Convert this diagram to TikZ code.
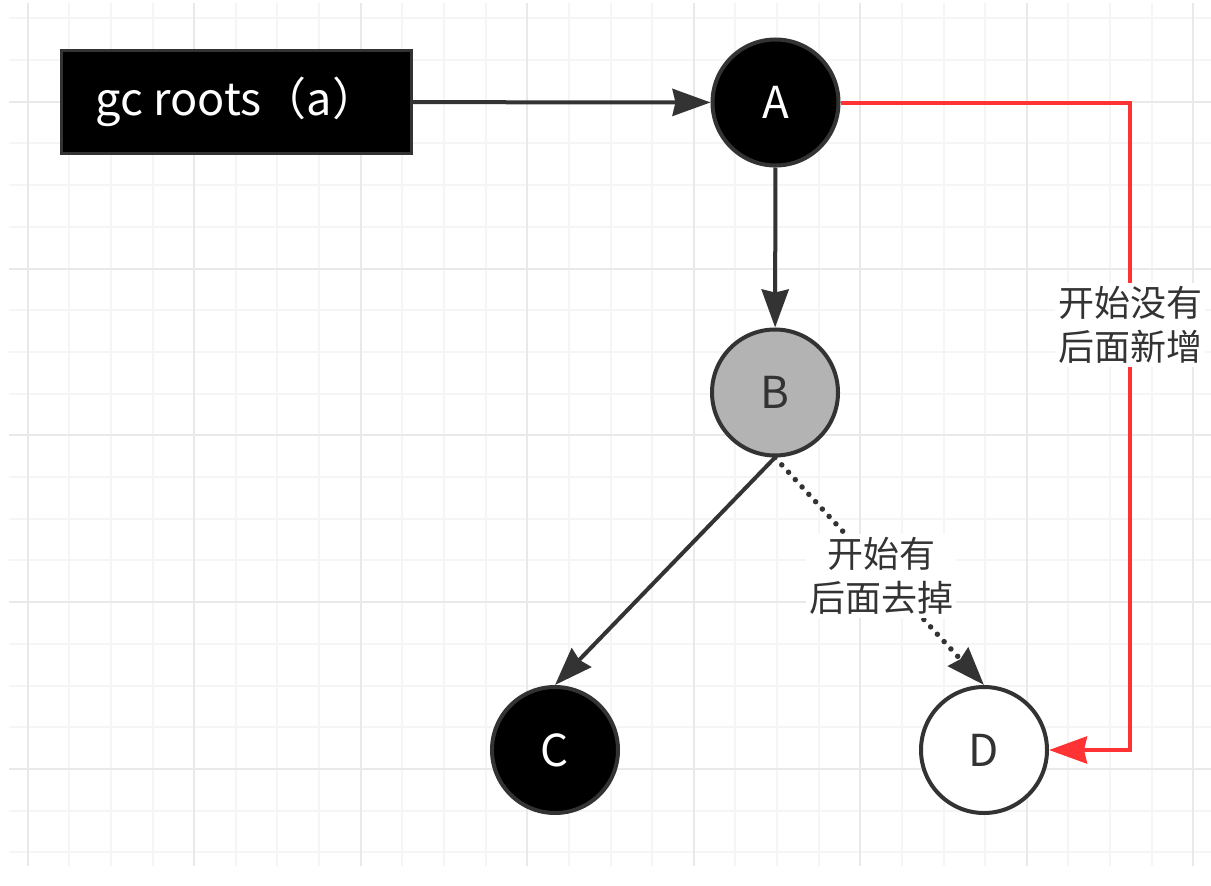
\documentclass[tikz,border=0pt]{standalone}
\usepackage{fontspec}
\newfontfamily\cjk{Noto Sans CJK SC}
\usetikzlibrary{arrows.meta}
\definecolor{gcline}{RGB}{51,51,51}
\definecolor{gcred}{RGB}{255,51,51}
\definecolor{gcgray}{RGB}{179,179,179}
\definecolor{gridlo}{RGB}{245,245,245}
\definecolor{gridhi}{RGB}{233,233,233}

\begin{document}
\begin{tikzpicture}[x=1pt,y=-1pt,
  obj/.style={draw=gcline,circle,line width=4pt,minimum size=126pt,
    inner sep=0pt,font=\cjk\fontsize{44}{50}\selectfont},
  ref/.style={draw=gcline,line width=4pt,
    -{Stealth[length=38pt,width=27pt,inset=3pt]}},
  lbl/.style={fill=white,inner sep=3pt,align=center,text=gcline,
    font=\cjk\fontsize{36}{44}\selectfont}]
\useasboundingbox (0,0) rectangle (1211,886);
% background grid
\foreach \i in {0,...,28}
  \draw[gridlo,line width=2pt] ({27.7+41.63*\i},3) -- ({27.7+41.63*\i},866);
\foreach \j in {0,...,20}
  \draw[gridlo,line width=2pt] (9,{18.3+41.7*\j}) -- (1211,{18.3+41.7*\j});
\foreach \i in {0,4,...,28}
  \draw[gridhi,line width=2pt] ({27.7+41.63*\i},3) -- ({27.7+41.63*\i},866);
\foreach \j in {2,6,...,18}
  \draw[gridhi,line width=2pt] (9,{18.3+41.7*\j}) -- (1211,{18.3+41.7*\j});
% objects
\node[draw=gcline,fill=black,line width=3pt,minimum width=350pt,
  minimum height=103pt,text=white,font=\cjk\fontsize{45}{50}\selectfont]
  (gc) at (236.5,102) {gc roots（a）};
\node[obj,fill=black,text=white] (A) at (775.5,102.5) {A};
\node[obj,fill=gcgray,text=gcline] (B) at (775,392.5) {B};
\node[obj,fill=black,text=white] (C) at (555,750) {C};
\node[obj,fill=white,text=gcline] (D) at (984,750) {D};
\coordinate (bend) at (1130,750);
% references
\draw[ref] (gc) -- (A);
\draw[ref] (A) -- (B);
\draw[ref] (B.south) -- (C.north);
\draw[ref,line width=5.5pt,dash pattern=on 0pt off 10pt,line cap=round]
  (B.south) -- (D.north);
\draw[ref,gcred] (A.east) -| (bend) -- (D.east);
\node[lbl] (added) at (1130,325) {开始没有\\后面新增};
\node[lbl] (removed) at (881,576) {开始有\\后面去掉};
\end{tikzpicture}
\end{document}
